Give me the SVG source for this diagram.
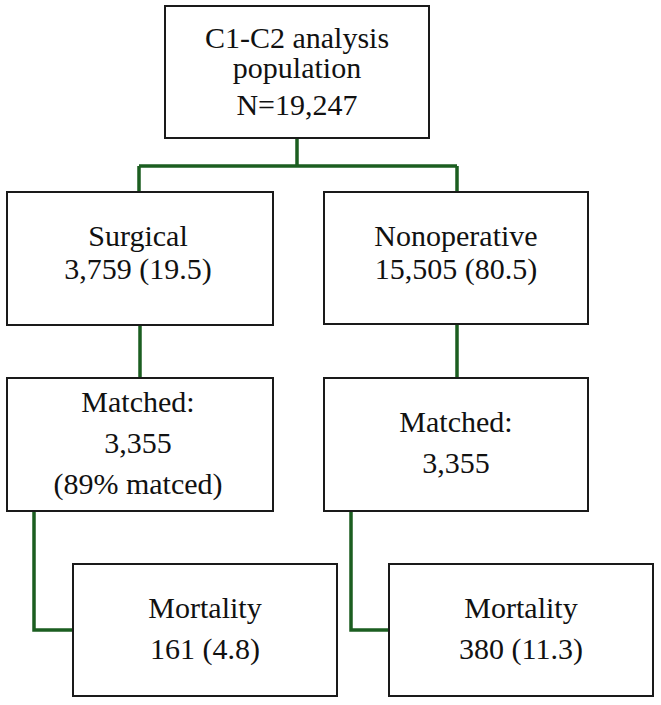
<svg xmlns="http://www.w3.org/2000/svg" width="661" height="705" viewBox="0 0 661 705">
<style>
.box{fill:#fff;stroke:#1a1a1a;stroke-width:2}
.t{font-family:'Liberation Serif','DejaVu Serif',serif;font-size:30px;fill:#111;text-anchor:middle}
.c{fill:none;stroke:#1b5e20;stroke-width:3.5}
</style>
<rect width="661" height="705" fill="#fff"/>
<g id="connectors">
<path class="c" d="M297,138 V166 M139,166 H457 M139,166 V192 M457,166 V192"/>
<path class="c" d="M140,325 V378 M457,324 V378"/>
<path class="c" d="M34,511 V630 H73 M351,511 V630 H389"/>
</g>
<g font-family="Liberation Serif" font-size="30">
<g id="population">
<rect class="box" x="165" y="6" width="264" height="132"/>
<text class="t" x="297" y="48">C1-C2 analysis</text>
<text class="t" x="297" y="78">population</text>
<text class="t" x="297" y="115">N=19,247</text>
</g>
<g id="surgical">
<rect class="box" x="7" y="192" width="266" height="133"/>
<text class="t" x="138" y="246">Surgical</text>
<text class="t" x="138" y="279">3,759 (19.5)</text>
</g>
<g id="nonoperative">
<rect class="box" x="324" y="192" width="264" height="132"/>
<text class="t" x="456" y="246">Nonoperative</text>
<text class="t" x="456" y="279">15,505 (80.5)</text>
</g>
<g id="matched-surgical">
<rect class="box" x="7" y="378" width="266" height="133"/>
<text class="t" x="138" y="412">Matched:</text>
<text class="t" x="138" y="453">3,355</text>
<text class="t" x="138" y="494">(89% matced)</text>
</g>
<g id="matched-nonoperative">
<rect class="box" x="324" y="378" width="264" height="133"/>
<text class="t" x="456" y="432">Matched:</text>
<text class="t" x="456" y="473">3,355</text>
</g>
<g id="mortality-surgical">
<rect class="box" x="73" y="564" width="264" height="132"/>
<text class="t" x="205" y="618">Mortality</text>
<text class="t" x="205" y="659">161 (4.8)</text>
</g>
<g id="mortality-nonoperative">
<rect class="box" x="389" y="564" width="264" height="132"/>
<text class="t" x="521" y="618">Mortality</text>
<text class="t" x="521" y="659">380 (11.3)</text>
</g>
</g>
</svg>
